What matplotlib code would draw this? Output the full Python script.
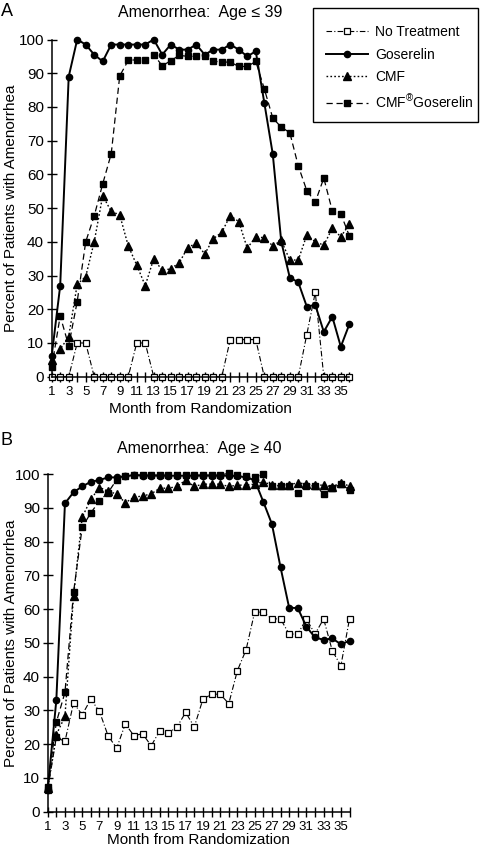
import numpy as np
import matplotlib
matplotlib.use("Agg")
import matplotlib.pyplot as plt
from matplotlib.patches import Rectangle

plt.rcParams['font.family'] = ['Liberation Sans', 'DejaVu Sans']
plt.rcParams['mathtext.fontset'] = 'custom'
plt.rcParams['mathtext.rm'] = 'Liberation Sans'

# Data (percent with amenorrhea per month)
months = list(range(1, 37))
series_names = ["No Treatment", "Goserelin", "CMF", r"CMF$^{\circledR}$Goserelin"]

a_no_treat = [0, 0, 0, 10, 10, 0, 0, 0, 0, 0, 10, 10, 0, 0, 0, 0, 0, 0, 0, 0, 0,
              11, 11, 11, 11, 0, 0, 0, 0, 0, 12.5, 25, 0, 0, 0, 0]
a_goserelin = [6.2, 27, 89, 100, 98.5, 95.5, 93.5, 98.5, 98.5, 98.5, 98.5, 98.5,
               100, 95.5, 98.5, 97, 97, 98.5, 95.5, 97, 97, 98.5, 97, 95, 96.5,
               81.3, 66, 40, 29.4, 28, 20.8, 21.3, 13.3, 17.8, 8.9, 15.5]
a_cmf = [5, 8.1, 11.9, 27.4, 29.7, 40, 53.7, 49, 48, 38.8, 33.1, 27, 35, 31.5,
         32, 33.8, 38.3, 39.6, 36.4, 40.9, 42.8, 47.8, 46, 38.1, 41.5, 41.2,
         38.8, 40.4, 34.6, 34.6, 42, 40, 39, 44, 41.5, 45.2]
a_cmf_gos = [2.8, 18, 9.2, 22.3, 40, 47.7, 57.2, 66.1, 89.2, 93.8, 94, 94, 95.5,
             92.2, 93.7, 95.3, 95, 95, 95, 93.6, 93.3, 93.3, 92, 92, 93.5, 85.4,
             76.7, 74, 72.4, 62.5, 55.2, 51.8, 58.9, 49.2, 48.3, 41.8]

b_no_treat = [6.5, 22, 20.8, 32.2, 28.7, 33.3, 29.7, 22.5, 18.8, 26, 22.5, 23.1,
              19.5, 24, 23.3, 25.1, 29.4, 25.1, 33.3, 34.8, 34.8, 32, 41.8, 47.9,
              59.1, 59.1, 57.1, 57.1, 52.6, 52.6, 57.1, 52.6, 57.1, 47.7, 43.2, 57.1]
b_goserelin = [6.5, 33, 91.3, 94.6, 96.3, 97.7, 98.2, 99, 99, 99.3, 99.7, 99.5,
               99.5, 99.5, 99.5, 99.5, 99.5, 99.5, 99.5, 99.5, 99.5, 99.5, 99.4,
               99, 98.2, 91.8, 85.2, 72.4, 60.4, 60.3, 54.8, 51.6, 50.9, 51.3,
               49.6, 50.6]
b_cmf = [7, 22.8, 28.2, 64, 87.2, 92.5, 96, 95, 94, 91.5, 93.1, 93.5, 94.1, 95.8,
         95.8, 96.3, 98.2, 96.3, 97, 97, 97, 96.3, 96.7, 96.7, 97, 97.7, 96.7,
         96.7, 96.8, 97.4, 97, 96.7, 96.7, 96.2, 97.4, 96.4]
b_cmf_gos = [7.2, 26.5, 35.3, 65, 84.2, 88.5, 92, 94.5, 98.3, 99.4, 99.7, 99.7,
             99.7, 99.7, 99.7, 99.7, 99.7, 99.7, 99.7, 99.7, 99.7, 100.2, 99.7,
             99.3, 99, 100, 96.5, 96.5, 96.5, 94.3, 96.5, 96.5, 94.2, 95.8, 97, 95.3]

styles = [
    dict(ls=(0, (5, 2, 1, 2)), lw=0.8, marker='s', ms=4, mfc='white', mec='black', mew=0.9),
    dict(ls='-', lw=1.4, marker='o', ms=4.5, mfc='black', mec='black'),
    dict(ls=(0, (1.2, 1.6)), lw=1.0, marker='^', ms=5.5, mfc='black', mec='black'),
    dict(ls=(0, (5, 3)), lw=0.9, marker='s', ms=4.5, mfc='black', mec='black'),
]


def draw_panel(ax, data, ylab_x, xlab_y):
    handles = []
    for name, vals, st in zip(series_names, data, styles):
        h, = ax.plot(months, vals, color='black', label=name, clip_on=False, **st)
        handles.append(h)
    ax.set_xlim(1, 36)
    ax.set_ylim(0, 100)
    ax.set_yticks(range(0, 101, 10))
    ax.set_xticks(months)
    ax.set_xticklabels([str(m) if m % 2 else '' for m in months])
    ax.tick_params(direction='inout', length=7, width=1, labelsize=11, pad=2)
    ax.tick_params(axis='x', labelsize=9.5, pad=3)
    for s in ['top', 'right']:
        ax.spines[s].set_visible(False)
    for s in ['left', 'bottom']:
        ax.spines[s].set_linewidth(1.1)
    ax.set_xlabel("Month from Randomization", fontsize=11)
    ax.set_ylabel("Percent of Patients with Amenorrhea", fontsize=11)
    ax.yaxis.set_label_coords(ylab_x, 0.5)
    ax.xaxis.set_label_coords(0.5, xlab_y)
    return handles


fig = plt.figure(figsize=(4.84, 8.48), dpi=100)
W, H = 484.0, 848.0

ax_a = fig.add_axes([51.7 / W, 1 - 376.7 / H, (349.3 - 51.7) / W, 337.2 / H])
handles = draw_panel(ax_a, [a_no_treat, a_goserelin, a_cmf, a_cmf_gos],
                     (18 - 51.7) / 297.6, (376.7 - 402) / 337.2)

ax_b = fig.add_axes([47.7 / W, 1 - 811.7 / H, (349.5 - 47.7) / W, 337.7 / H])
draw_panel(ax_b, [b_no_treat, b_goserelin, b_cmf, b_cmf_gos],
           (18 - 47.7) / 301.8, (811.7 - 833) / 337.7)

fig.text(1 / W, 1 - 11 / H, "A", fontsize=13, va='center', ha='left')
fig.text(200 / W, 1 - 13 / H, "Amenorrhea:  Age \u2264 39", fontsize=11.5, va='center', ha='center')
fig.text(1 / W, 1 - 441 / H, "B", fontsize=13, va='center', ha='left')
fig.text(199 / W, 1 - 448 / H, "Amenorrhea:  Age \u2265 40", fontsize=11.5, va='center', ha='center')

# legend box drawn separately, legend entries placed inside it
fig.patches.append(Rectangle((313 / W, 1 - 122 / H), 165 / W, 114 / H,
                             transform=fig.transFigure, facecolor='white',
                             edgecolor='black', linewidth=1.0, zorder=5))
leg = fig.legend(handles=handles, loc='upper left',
                 bbox_to_anchor=(326 / W, 1 - 25 / H), borderaxespad=0,
                 fontsize=10, handlelength=3.0, labelspacing=0.62,
                 borderpad=0, handletextpad=0.55, frameon=False)
leg.set_zorder(6)

fig.savefig("out.png", dpi=100)
